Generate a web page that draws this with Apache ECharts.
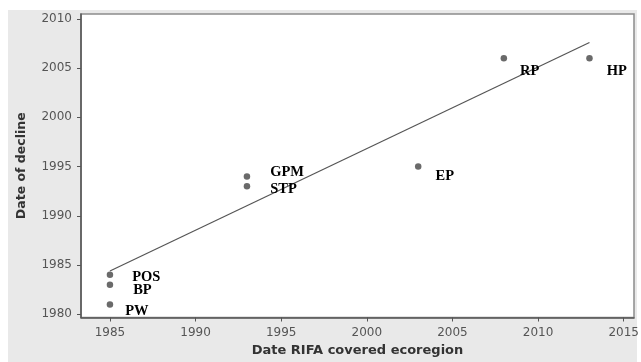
<!DOCTYPE html>
<html><head><meta charset="utf-8">
<script src="https://cdn.jsdelivr.net/npm/echarts@6/dist/echarts.min.js"></script>
<style>
html,body{margin:0;padding:0;background:#fff;width:641px;height:362px;overflow:hidden}
#c{position:absolute;left:8px;top:10px;width:633px;height:352px;
   background:linear-gradient(to right,#e9e9e9 629px,#fff 629px);}
</style>
</head><body><div id="c"></div>
<script>
const sites = ['POS','BP','PW','GPM','STP','EP','RP','HP'];
const rifaYear = [1985,1985,1985,1993,1993,2003,2008,2013];
const declineYear = [1984,1983,1981,1994,1993,1995,2006,2006];
const fitX = [1985, 2013];
const fitY = [1984.4, 2007.6];
const xTicks = [1985,1990,1995,2000,2005,2010,2015];
const yTicks = [1980,1985,1990,1995,2000,2005,2010];
const labelOffsets = [[19,2],[20,6],[12,7],[20,-4],[20,3],[14,10],[13,13],[14,13]];

const chart = echarts.init(document.getElementById('c'), null, {renderer:'canvas'});
const tickFont = {fontFamily:'DejaVu Sans', fontSize:12, color:'#555', formatter:v=>String(v)};
chart.setOption({
  backgroundColor:'transparent',
  animation:false,
  grid:{left:73, top:4, right:7, bottom:44.5, outerBoundsMode:'none', containLabel:false,
    show:true, backgroundColor:'#fff', borderColor:'#8c8c8c', borderWidth:1.5},
  xAxis:{
    type:'value', min:1983.31, max:2015.6,
    name:'Date RIFA covered ecoregion', nameLocation:'middle', nameGap:27,
    nameTextStyle:{fontFamily:'DejaVu Sans', fontSize:13, fontWeight:'bold', color:'#333'},
    axisLine:{show:true, lineStyle:{color:'#555', width:1.5}},
    axisTick:{show:true, length:4, customValues:xTicks, lineStyle:{color:'#555'}},
    axisLabel:Object.assign({margin:9, customValues:xTicks}, tickFont),
    splitLine:{show:false}
  },
  yAxis:{
    type:'value', min:1979.67, max:2010.5,
    name:'Date of decline', nameLocation:'middle', nameGap:53, nameRotate:90,
    nameTextStyle:{fontFamily:'DejaVu Sans', fontSize:12.5, fontWeight:'bold', color:'#333'},
    axisLine:{show:true, lineStyle:{color:'#555', width:1.5}},
    axisTick:{show:true, length:4, customValues:yTicks, lineStyle:{color:'#555'}},
    axisLabel:Object.assign({margin:9, customValues:yTicks}, tickFont),
    splitLine:{show:false}
  },
  series:[
    {
      type:'line', data:fitX.map((x,i)=>[x, fitY[i]]), symbol:'none',
      lineStyle:{color:'#555', width:1.2}, z:2
    },
    {
      type:'scatter', symbol:'circle', symbolSize:6.5,
      itemStyle:{color:'#6a6a6a', opacity:1},
      data:sites.map((s,i)=>({name:s, value:[rifaYear[i], declineYear[i]], label:{offset:labelOffsets[i]}})),
      label:{show:true, position:'right', distance:0, formatter:p=>p.name,
        fontFamily:'Liberation Serif', fontWeight:'bold', fontSize:14.5, color:'#000'},
      z:3
    }
  ]
});
</script></body></html>
